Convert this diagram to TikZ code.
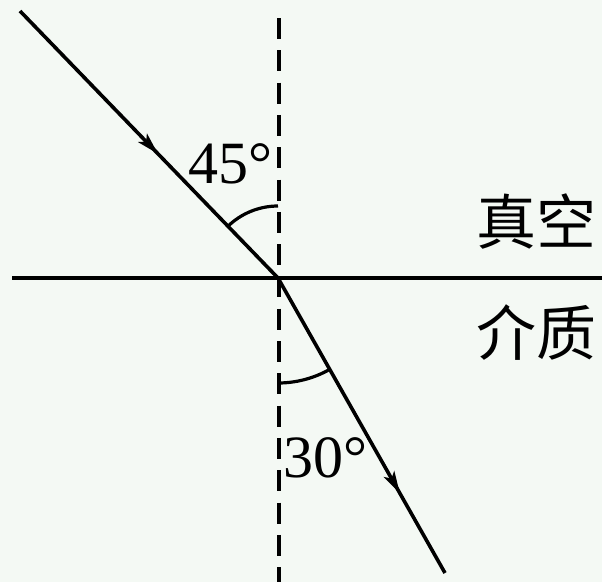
\documentclass[tikz,border=0pt]{standalone}
\usepackage{fontspec}
\setmainfont{Liberation Serif}
\newfontfamily\cjk{Noto Sans CJK SC}
\usetikzlibrary{arrows.meta,decorations.markings}
\definecolor{bgcol}{RGB}{244,249,244}
\tikzset{
  ray/.style={line width=3.6pt},
  axis/.style={line width=3.8pt},
  normalline/.style={line width=3.8pt, dash pattern=on 21pt off 11.3pt},
  anglearc/.style={line width=3.2pt},
  lbl/.style={inner sep=0pt, font=\fontsize{60}{60}\selectfont},
  cjklbl/.style={inner sep=0pt, font=\cjk\fontsize{60}{60}\selectfont},
  arrowmid/.style={postaction={decorate},decoration={markings,
     mark=at position #1 with {\arrow{Stealth[length=22pt,width=12pt,inset=5pt]}}}}
}
\begin{document}
\begin{tikzpicture}[x=1pt,y=1pt]
\fill[bgcol] (0,0) rectangle (602,-582);
\useasboundingbox (0,0) rectangle (602,-582);
\coordinate (O) at (278,-278);
\coordinate (L) at (12,-278);
\coordinate (R) at (602,-278);
\coordinate (T) at (279,-18);
\coordinate (B) at (279,-582);
\coordinate (S) at (20,-11);
\coordinate (E) at (445,-573);
% interface and normal
\draw[axis] (L) -- (R);
\draw[normalline] (T) -- (B);
% rays
\draw[ray, arrowmid=0.535] (S) -- (O);
\draw[ray, arrowmid=0.73] (O) -- (E);
% angle arcs
\draw[anglearc] ([shift={(90:72)}]O) arc[start angle=90, end angle=134, radius=72];
\draw[anglearc] ([shift={(-90:105)}]O) arc[start angle=-90, end angle=-60.5, radius=105];
% labels
\node[lbl, anchor=base west] (a45) at (188,-183) {45°};
\node[lbl, anchor=base west] (a30) at (283,-477) {30°};
\node[cjklbl] (vac) at (536,-222) {真空};
\node[cjklbl] (med) at (536,-333) {介质};
\end{tikzpicture}
\end{document}
